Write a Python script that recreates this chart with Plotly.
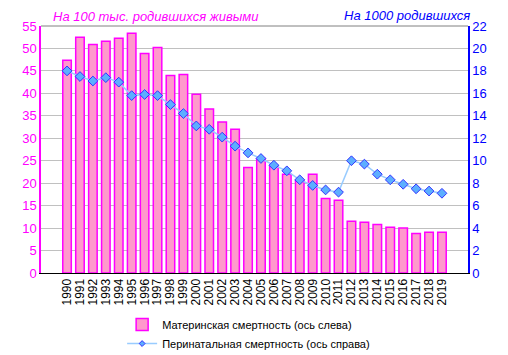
import plotly.graph_objects as go

years = [str(y) for y in range(1990, 2020)]
maternal = [47.4, 52.5, 50.9, 51.6, 52.3, 53.4, 48.9, 50.2, 44.0, 44.2,
            39.8, 36.5, 33.6, 32.0, 23.5, 25.5, 23.8, 22.0, 20.7, 22.0,
            16.6, 16.2, 11.5, 11.3, 10.8, 10.2, 10.0, 8.8, 9.1, 9.1]
perinatal = [18.0, 17.5, 17.1, 17.4, 17.0, 15.8, 15.9, 15.8, 15.0, 14.2,
             13.1, 12.8, 12.1, 11.3, 10.7, 10.2, 9.6, 9.1, 8.3, 7.8,
             7.4, 7.2, 10.0, 9.7, 8.8, 8.3, 7.9, 7.5, 7.3, 7.1]
left_ticks = list(range(0, 56, 5))
right_ticks = list(range(0, 23, 2))

name_bar = "Материнская смертность (ось слева)"
name_line = "Перинатальная смертность (ось справа)"

fig = go.Figure()
fig.add_trace(go.Bar(
    x=years, y=maternal, name=name_bar,
    marker=dict(color="#FF99CC", line=dict(color="#FF00FF", width=1.5)),
    yaxis="y",
))
fig.add_trace(go.Scatter(
    x=years, y=perinatal, name=name_line, showlegend=False,
    mode="lines+markers",
    line=dict(color="#99CCFF", width=1.5),
    marker=dict(symbol="diamond", size=7.5, color="#5CAEFF",
                line=dict(color="#3333FF", width=1)),
    yaxis="y2",
))
# legend-only entry with a small marker, like the reference legend
fig.add_trace(go.Scatter(
    x=[None], y=[None], name=name_line, mode="lines+markers",
    line=dict(color="#99CCFF", width=1.5),
    marker=dict(symbol="diamond", size=4.5, color="#5CAEFF",
                line=dict(color="#3333FF", width=1)),
    yaxis="y2",
))

# the page body has an 8px margin, so the figure is sized 8px smaller
fig.update_layout(
    width=500, height=347,
    margin=dict(l=33, r=40, t=18, b=82, autoexpand=False),
    paper_bgcolor="white", plot_bgcolor="white",
    font=dict(family="Liberation Sans, Arial, sans-serif", size=12),
    bargap=0.34,
    showlegend=True,
    legend=dict(x=0.19, y=-0.15, xanchor="left", yanchor="top",
                font=dict(size=11, color="#000000"), tracegroupgap=0,
                itemwidth=30),
    xaxis=dict(type="category", tickangle=-90, showgrid=False,
               tickmode="array", tickvals=years, ticktext=years,
               automargin=False,
               showline=True, linecolor="black", linewidth=1,
               ticks="", tickfont=dict(size=12, color="black")),
    yaxis=dict(range=[0, 55], tickvals=left_ticks, showgrid=True,
               gridcolor="#C0C0C0", gridwidth=1, automargin=False,
               showline=True, linecolor="#FF00FF", linewidth=1.5,
               tickfont=dict(size=13, color="#FF00FF"), zeroline=False,
               ticks=""),
    yaxis2=dict(range=[0, 22], tickvals=right_ticks, overlaying="y",
                side="right", showgrid=False, automargin=False,
                showline=True, linecolor="#0000FF", linewidth=1.5,
                tickfont=dict(size=13, color="#0000FF"), zeroline=False,
                ticks=""),
    shapes=[dict(type="line", xref="paper", yref="paper", x0=0, x1=1,
                 y0=1, y1=1, line=dict(color="#808080", width=1))],
    annotations=[
        dict(text="На 100 тыс. родившихся живыми", xref="paper", yref="paper",
             x=0.023, y=1.0, xanchor="left", yanchor="bottom", yshift=0,
             showarrow=False,
             font=dict(size=13, color="#FF00FF", style="italic")),
        dict(text="На 1000 родившихся", xref="paper", yref="paper",
             x=1.01, y=1.0, xanchor="right", yanchor="bottom", yshift=1,
             showarrow=False,
             font=dict(size=13, color="#0000FF", style="italic")),
    ],
)

fig.write_html("out.html")
